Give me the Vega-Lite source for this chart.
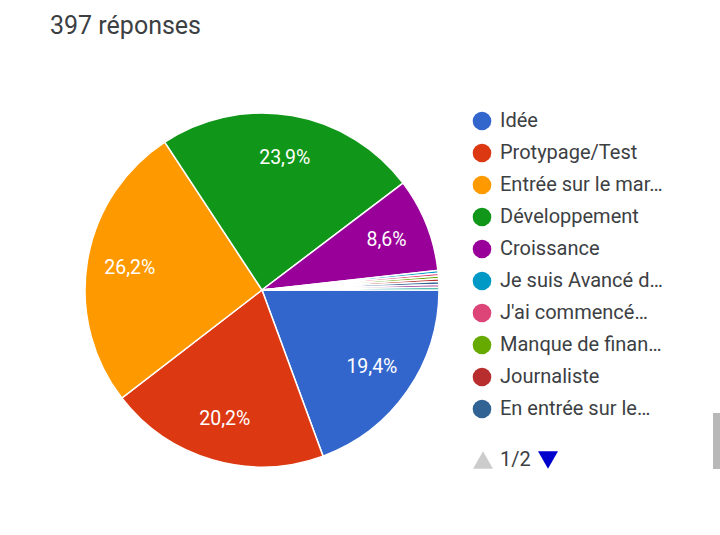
{
  "$schema": "https://vega.github.io/schema/vega-lite/v6.json",
  "width": 354,
  "height": 354,
  "autosize": "none",
  "padding": {"left": 85, "top": 113, "right": 281, "bottom": 68},
  "background": "white",
  "title": {
    "text": "397 réponses",
    "anchor": "start",
    "frame": "group",
    "dx": -35,
    "offset": 71,
    "font": "Roboto",
    "fontSize": 25,
    "fontWeight": "normal",
    "color": "#3c4043"
  },
  "config": {
    "font": "Roboto",
    "view": {"stroke": null},
    "legend": {
      "labelFont": "Roboto",
      "labelColor": "#3c4043",
      "labelFontSize": 20,
      "padding": 0
    }
  },
  "datasets": {
    "answers": [
      {"answer": "Idée", "count": 77, "rank": 1, "label": "19,4%"},
      {"answer": "Protypage/Test", "count": 80, "rank": 2, "label": "20,2%"},
      {"answer": "Entrée sur le mar…", "count": 104, "rank": 3, "label": "26,2%"},
      {"answer": "Développement", "count": 95, "rank": 4, "label": "23,9%"},
      {"answer": "Croissance", "count": 34, "rank": 5, "label": "8,6%"},
      {"answer": "Je suis Avancé d…", "count": 1, "rank": 6, "label": ""},
      {"answer": "J'ai commencé…", "count": 1, "rank": 7, "label": ""},
      {"answer": "Manque de finan…", "count": 1, "rank": 8, "label": ""},
      {"answer": "Journaliste", "count": 1, "rank": 9, "label": ""},
      {"answer": "En entrée sur le…", "count": 1, "rank": 10, "label": ""},
      {"answer": "Page 2 a", "count": 1, "rank": 11, "label": ""},
      {"answer": "Page 2 b", "count": 1, "rank": 12, "label": ""}
    ],
    "pager": [
      {"page": "1/2"},
      {"page": " "}
    ],
    "scrollbar": [
      {"bar": " "}
    ]
  },
  "layer": [
    {
      "data": {"name": "scrollbar"},
      "mark": {"type": "point", "filled": true, "size": 1, "opacity": 1},
      "encoding": {
        "shape": {
          "field": "bar",
          "type": "nominal",
          "scale": {"domain": [" "], "range": ["M-1,-7H1V7H-1Z"]},
          "legend": {
            "title": null,
            "orient": "none",
            "legendX": 627,
            "legendY": 323,
            "symbolSize": 64,
            "labelFontSize": 1,
            "labelOffset": 0
          }
        },
        "color": {
          "field": "bar",
          "type": "nominal",
          "scale": {"domain": [" "], "range": ["#b8b8b8"]},
          "legend": {
            "title": null,
            "orient": "none",
            "legendX": 627,
            "legendY": 323,
            "symbolSize": 64,
            "labelFontSize": 1,
            "labelOffset": 0
          }
        }
      }
    },
    {
      "data": {"name": "pager"},
      "mark": {"type": "point", "filled": true, "size": 20, "opacity": 1},
      "encoding": {
        "shape": {
          "field": "page",
          "type": "nominal",
          "scale": {"domain": ["1/2", " "], "range": ["triangle-up", "triangle-down"]},
          "legend": {
            "title": null,
            "orient": "none",
            "legendX": 387,
            "legendY": 336,
            "direction": "horizontal",
            "columns": 2,
            "symbolSize": 400,
            "labelOffset": 6,
            "columnPadding": 6
          }
        },
        "color": {
          "field": "page",
          "type": "nominal",
          "scale": {"domain": ["1/2", " "], "range": ["#cccccc", "#0000cc"]},
          "legend": {
            "title": null,
            "orient": "none",
            "legendX": 387,
            "legendY": 336,
            "direction": "horizontal",
            "columns": 2,
            "symbolSize": 400,
            "labelOffset": 6,
            "columnPadding": 6
          }
        }
      }
    },
    {
      "data": {"name": "answers"},
      "mark": {"type": "arc", "stroke": "white", "strokeWidth": 1.5},
      "encoding": {
        "theta": {
          "field": "count",
          "type": "quantitative",
          "stack": true,
          "scale": {"range": [1.5708, 7.854]}
        },
        "order": {"field": "rank", "type": "quantitative"},
        "color": {
          "field": "answer",
          "type": "nominal",
          "sort": null,
          "scale": {
            "domain": ["Idée", "Protypage/Test", "Entrée sur le mar…", "Développement", "Croissance", "Je suis Avancé d…", "J'ai commencé…", "Manque de finan…", "Journaliste", "En entrée sur le…", "Page 2 a", "Page 2 b"],
            "range": ["#3366cc", "#dc3912", "#ff9900", "#109618", "#990099", "#0099c6", "#dd4477", "#66aa00", "#b82e2e", "#316395", "#994499", "#22aa99"]
          },
          "legend": {
            "title": null,
            "orient": "none",
            "legendX": 387,
            "legendY": -2,
            "values": ["Idée", "Protypage/Test", "Entrée sur le mar…", "Développement", "Croissance", "Je suis Avancé d…", "J'ai commencé…", "Manque de finan…", "Journaliste", "En entrée sur le…"],
            "symbolType": "circle",
            "symbolSize": 346,
            "symbolStrokeWidth": 0,
            "labelOffset": 8,
            "rowPadding": 12,
            "labelLimit": 200
          }
        }
      }
    },
    {
      "data": {"name": "answers"},
      "mark": {"type": "text", "radius": 134, "font": "Roboto", "fontSize": 19.5, "color": "white"},
      "encoding": {
        "theta": {"field": "count", "type": "quantitative", "stack": true},
        "order": {"field": "rank", "type": "quantitative"},
        "text": {"field": "label", "type": "nominal"}
      }
    }
  ],
  "resolve": {"scale": {"color": "independent", "shape": "independent"}}
}
